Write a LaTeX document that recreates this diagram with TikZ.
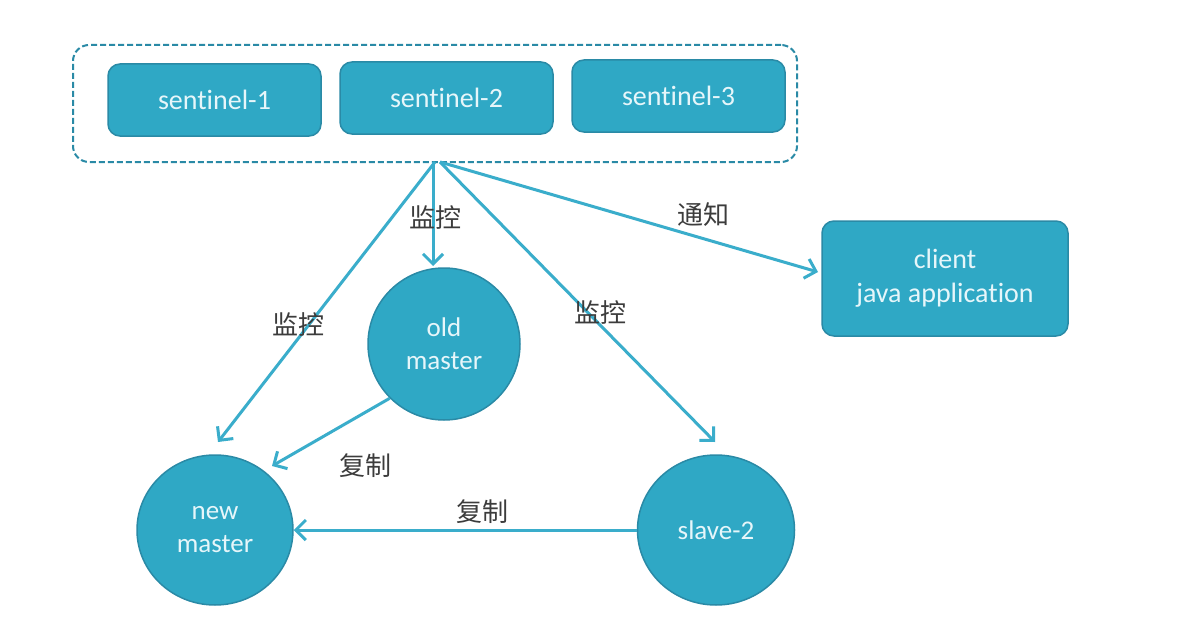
\documentclass[tikz,border=0pt]{standalone}
\usepackage{fontspec}
\setmainfont{Carlito}[Ligatures=NoCommon]
\newfontfamily\cjk{Noto Sans CJK SC}
\usetikzlibrary{arrows.meta,shapes.geometric}
\definecolor{boxfill}{HTML}{2FA8C5}
\definecolor{boxedge}{HTML}{2A8AA6}
\definecolor{arrowc}{HTML}{3AADCB}
\definecolor{txtc}{HTML}{E6F6FA}
\definecolor{lblc}{HTML}{3C3C3C}
\tikzset{
  sbox/.style={draw=boxedge, fill=boxfill, line width=1.5pt, rounded corners=12pt,
    text=txtc, font=\fontsize{28}{34}\selectfont, align=center, inner sep=0pt},
  cnode/.style={draw=boxedge, fill=boxfill, line width=1.5pt, ellipse,
    text=txtc, font=\fontsize{27}{33}\selectfont, align=center, inner sep=0pt},
  conn/.style={draw=arrowc, line width=3pt, -{Straight Barb[length=10pt,width=20pt,line width=3pt]}},
  lbl/.style={text=lblc, font=\cjk\fontsize{26}{30}\selectfont, inner sep=1pt},
}
\begin{document}
\begin{tikzpicture}[x=1pt,y=-1pt]
\useasboundingbox[fill=white] (0,0) rectangle (1192,618);
% container
\node[draw=boxedge, dashed, dash pattern=on 6pt off 3pt, line width=2pt, rounded corners=16pt,
  minimum width=724pt, minimum height=117pt, inner sep=0pt] (grp) at (435,103.5) {};
\node[sbox, minimum width=213pt, minimum height=72pt] (s1) at (214.5,100) {sentinel-1};
\node[sbox, minimum width=213pt, minimum height=72pt] (s2) at (446.5,98) {sentinel-2};
\node[sbox, minimum width=213pt, minimum height=72pt] (s3) at (678.5,96) {sentinel-3};
\node[sbox, minimum width=246pt, minimum height=115pt] (client) at (945,278.5) {client\\java application};
\node[cnode, minimum width=152pt, minimum height=152pt] (old) at (444,344) {old\\master};
\node[cnode, minimum width=156pt, minimum height=150pt] (new) at (215,530) {new\\master};
\node[cnode, minimum width=157pt, minimum height=150pt] (slave) at (716,530) {slave-2};
\coordinate (o) at (435,162);
\coordinate (oa) at (433,162);
\coordinate (ob) at (440,162);
\draw[conn] (oa) -- (433,266) coordinate (oldtop);
\draw[conn] (o) -- (218,442) coordinate (newtip);
\draw[conn] (ob) -- (715,442) coordinate (slavetip);
\draw[conn] (ob) -- (818,272) coordinate (clienttip);
\draw[conn] (old.225) -- (272,466);
\draw[conn] (slave.west) -- (new.east);
\node[lbl] (l1) at (435,218) {监控};
\node[lbl] (l2) at (298,325) {监控};
\node[lbl] (l3) at (600,313) {监控};
\node[lbl] (l4) at (703,215) {通知};
\node[lbl] (l5) at (365,466) {复制};
\node[lbl] (l6) at (482,512) {复制};
\end{tikzpicture}
\end{document}
